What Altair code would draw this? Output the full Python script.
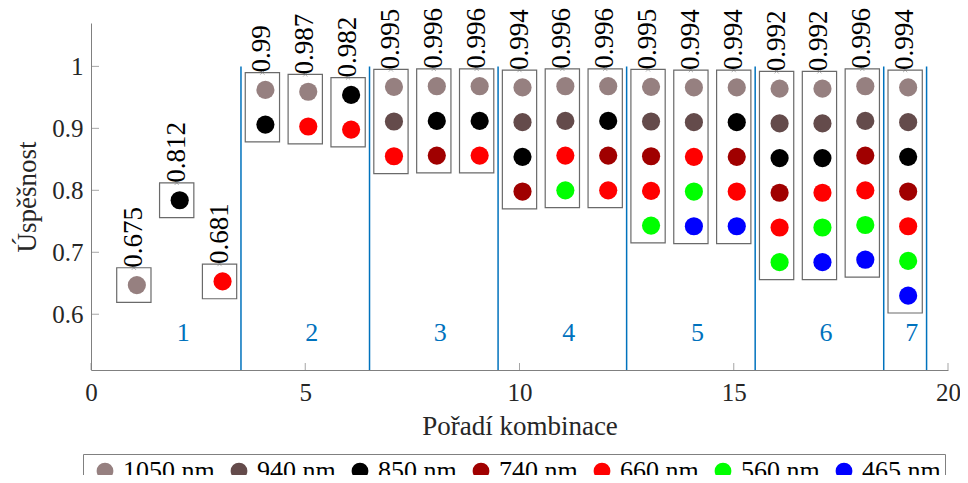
import altair as alt
import pandas as pd

# ---- data ----
wavelengths = ["1050 nm", "940 nm", "850 nm", "740 nm", "660 nm", "560 nm", "465 nm"]
wl_colors = ["#968080", "#644b4b", "#000000", "#a00000", "#ff0000", "#00ff00", "#0000ff"]

combo_sets = [
    ["1050 nm"],
    ["850 nm"],
    ["660 nm"],
    ["1050 nm", "850 nm"],
    ["1050 nm", "660 nm"],
    ["850 nm", "660 nm"],
    ["1050 nm", "940 nm", "660 nm"],
    ["1050 nm", "850 nm", "740 nm"],
    ["1050 nm", "850 nm", "660 nm"],
    ["1050 nm", "940 nm", "850 nm", "740 nm"],
    ["1050 nm", "940 nm", "660 nm", "560 nm"],
    ["1050 nm", "850 nm", "740 nm", "660 nm"],
    ["1050 nm", "940 nm", "740 nm", "660 nm", "560 nm"],
    ["1050 nm", "940 nm", "660 nm", "560 nm", "465 nm"],
    ["1050 nm", "850 nm", "740 nm", "660 nm", "465 nm"],
    ["1050 nm", "940 nm", "850 nm", "740 nm", "660 nm", "560 nm"],
    ["1050 nm", "940 nm", "850 nm", "660 nm", "560 nm", "465 nm"],
    ["1050 nm", "940 nm", "740 nm", "660 nm", "560 nm", "465 nm"],
    ["1050 nm", "940 nm", "850 nm", "740 nm", "660 nm", "560 nm", "465 nm"],
]
accuracy = [0.675, 0.812, 0.681, 0.99, 0.987, 0.982, 0.995, 0.996, 0.996,
            0.994, 0.996, 0.996, 0.995, 0.994, 0.994, 0.992, 0.992, 0.996, 0.994]
group_labels = ["1", "2", "3", "4", "5", "6", "7"]
group_label_x = [2, 5, 8, 11, 14, 17, 19]
separators = [3.5, 6.5, 9.5, 12.5, 15.5, 18.5, 19.5]
x_ticks = [0, 5, 10, 15, 20]
y_ticks = [0.6, 0.7, 0.8, 0.9, 1.0]

# ---- layout constants ----
W, H = 857, 347
YMIN, YMAX = 0.51, 1.07
STEP = 0.056      # vertical spacing of circles inside a box
HALF = 0.4        # half width of a box
FONT = "Liberation Serif"
TXT = "#262626"
AX = "#808080"

# ---- derived tables ----
pts, boxes = [], []
for i, (wls, acc) in enumerate(zip(combo_sets, accuracy), start=1):
    n = len(wls)
    boxes.append({"c": i, "x0": i - HALF, "x1": i + HALF, "top": acc,
                  "bot": acc - n * STEP, "label": f"{acc:g}"})
    for k, wl in enumerate(wls):
        pts.append({"c": i, "wl": wl, "y": acc - (k + 0.5) * STEP})
pts = pd.DataFrame(pts)
boxes = pd.DataFrame(boxes)
seps = pd.DataFrame({"x": separators, "y0": [YMIN] * len(separators), "y1": [1.0] * len(separators)})
groups = pd.DataFrame({"x": group_label_x, "t": group_labels, "y": [0.57] * len(group_labels)})
xt = pd.DataFrame({"xv": x_ticks})
yt = pd.DataFrame({"yv": y_ticks})

xs = alt.Scale(domain=[0, 20], nice=False, zero=False)
ys = alt.Scale(domain=[YMIN, YMAX], nice=False, zero=False)

xax = alt.Axis(values=x_ticks, ticks=False, grid=False, title="Pořadí kombinace",
               labelFontSize=25, labelFont=FONT, labelColor=TXT, labelPadding=10,
               labelFlush=False, labelOverlap=False,
               titleFontSize=27, titleFont=FONT, titleFontWeight="normal", titleColor=TXT,
               titlePadding=8, domainColor=AX, domainWidth=1)
yax = alt.Axis(values=y_ticks, format="~g", ticks=False, grid=False, title="Úspěšnost",
               labelFontSize=25, labelFont=FONT, labelColor=TXT, labelPadding=8,
               labelFlush=False, labelOverlap=False,
               titleFontSize=27, titleFont=FONT, titleFontWeight="normal", titleColor=TXT,
               titlePadding=10, domainColor=AX, domainWidth=1)

# axes carried by the box layer
box_rects = alt.Chart(boxes).mark_rect(fill="white", fillOpacity=0, stroke="#6a6a6a",
                                       strokeWidth=1.2).encode(
    x=alt.X("x0:Q", scale=xs, axis=xax), x2="x1:Q",
    y=alt.Y("top:Q", scale=ys, axis=yax), y2="bot:Q")

sep_rules = alt.Chart(seps).mark_rule(color="#0072BD", strokeWidth=1.5).encode(
    x=alt.X("x:Q", scale=xs), y=alt.Y("y0:Q", scale=ys), y2="y1:Q")

circles = alt.Chart(pts).mark_circle(size=330, opacity=1, xOffset=3).encode(
    x=alt.X("c:Q", scale=xs),
    y=alt.Y("y:Q", scale=ys),
    color=alt.Color("wl:N", scale=alt.Scale(domain=wavelengths, range=wl_colors),
                    legend=alt.Legend(title=None, orient="none", direction="horizontal",
                                      columns=7, legendX=-8, legendY=431,
                                      symbolType="circle", symbolSize=280, symbolOpacity=1,
                                      symbolStrokeWidth=0, symbolOffset=5,
                                      labelFont=FONT, labelFontSize=26, labelColor="#000",
                                      labelOffset=5, columnPadding=6,
                                      strokeColor=AX, fillColor="white", padding=4)),
)

xmarks = alt.Chart(boxes).mark_point(shape="M-1,-1L1,1M-1,1L1,-1", size=18, filled=False,
                                     color="#777", strokeWidth=0.8).encode(
    x=alt.X("c:Q", scale=xs), y=alt.Y("top:Q", scale=ys))

acc_text = alt.Chart(boxes).mark_text(angle=270, align="left", baseline="middle",
                                      font=FONT, fontSize=27, color="#000").encode(
    x=alt.X("c:Q", scale=xs), y=alt.Y("top:Q", scale=ys), text="label:N")

group_text = alt.Chart(groups).mark_text(align="left", baseline="middle", font=FONT,
                                         fontSize=26, color="#0072BD").encode(
    x=alt.X("x:Q", scale=xs), y=alt.Y("y:Q", scale=ys), text="t:N")

# inward tick marks
xtick_marks = alt.Chart(xt).mark_tick(color=AX, thickness=1, size=7, orient="vertical").encode(
    x=alt.X("xv:Q", scale=xs), y=alt.value(H - 3.5))
ytick_marks = alt.Chart(yt).mark_tick(color=AX, thickness=1, size=8, orient="horizontal").encode(
    y=alt.Y("yv:Q", scale=ys), x=alt.value(4))

chart = alt.layer(box_rects, sep_rules, circles, xmarks, acc_text, group_text,
                  xtick_marks, ytick_marks).properties(
    width=W, height=H,
    autosize=alt.AutoSizeParams(type="none"),
    padding={"left": 83, "top": 15, "right": 12, "bottom": 105},
).configure(background="white").configure_view(stroke=None)

chart.save("out.html", embed_options={"renderer": "svg", "actions": False})
